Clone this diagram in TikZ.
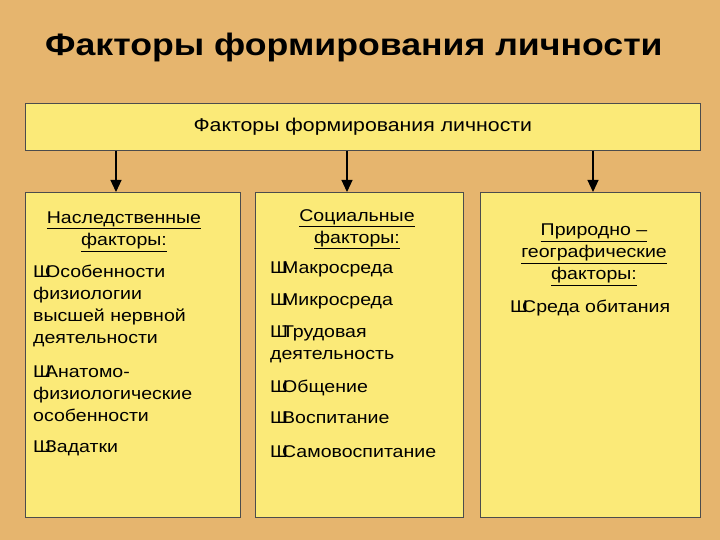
\documentclass[tikz,border=0pt]{standalone}
\usepackage{fontspec}
\setmainfont[FakeStretch=1.15]{Liberation Sans}
\usetikzlibrary{arrows.meta}
\definecolor{bg}{HTML}{E6B56E}
\definecolor{bx}{HTML}{FBEA78}
\newcommand{\bul}[1]{Ш\kern-6pt #1}
\begin{document}
\begin{tikzpicture}[x=1pt,y=-1pt,
  boxst/.style={draw=black!70,fill=bx,line width=0.6pt},
  txt/.style={anchor=north west,align=left,font=\fontsize{17}{22}\selectfont,inner sep=0pt},
  hd/.style={anchor=north,align=center,font=\fontsize{17}{22}\selectfont,inner sep=0pt},
  arr/.style={-{Triangle[length=12pt,width=11pt]},line width=1.2pt}]
\fill[bg] (0,0) rectangle (720,540);
\useasboundingbox (0,0) rectangle (720,540);
\node[font=\fontsize{31}{34}\selectfont\bfseries,anchor=north west,inner sep=0pt] (title) at (45,33) {Факторы формирования личности};
\node[boxst,minimum width=675,minimum height=47,anchor=north west,font=\fontsize{18.5}{20}\selectfont] (top) at (25,103) {Факторы формирования личности};
\node[boxst,minimum width=215,minimum height=325,anchor=north west] (l) at (25,192) {};
\node[boxst,minimum width=208,minimum height=325,anchor=north west] (m) at (255,192) {};
\node[boxst,minimum width=220,minimum height=325,anchor=north west] (r) at (480,192) {};
\draw[arr] (top.south -| 116,0) -- (l.north -| 116,0);
\draw[arr] (top.south -| 347,0) -- (m.north -| 347,0);
\draw[arr] (top.south -| 593,0) -- (r.north -| 593,0);
\node[hd] (lh) at (124,212) {\underline{Наследственные}\\\underline{факторы:}};
\node[txt] (l1) at (33,265) {\bul{О}собенности\\физиологии\\высшей нервной\\деятельности};
\node[txt] (l2) at (33,366) {\bul{А}натомо-\\физиологические\\особенности};
\node[txt] (l3) at (33,440) {\bul{З}адатки};
\node[hd] (mh) at (357,209) {\underline{Социальные}\\\underline{факторы:}};
\node[txt] (m1) at (270,262) {\bul{М}акросреда};
\node[txt] (m2) at (270,294) {\bul{М}икросреда};
\node[txt] (m3) at (270,326) {\bul{Т}рудовая\\деятельность};
\node[txt] (m4) at (270,380) {\bul{О}бщение};
\node[txt] (m5) at (270,412) {\bul{В}оспитание};
\node[txt] (m6) at (270,445) {\bul{С}амовоспитание};
\node[hd] (rh) at (594,224) {\underline{Природно –}\\\underline{географические}\\\underline{факторы:}};
\node[txt] (r1) at (510,300) {\bul{С}реда обитания};
\end{tikzpicture}
\end{document}
